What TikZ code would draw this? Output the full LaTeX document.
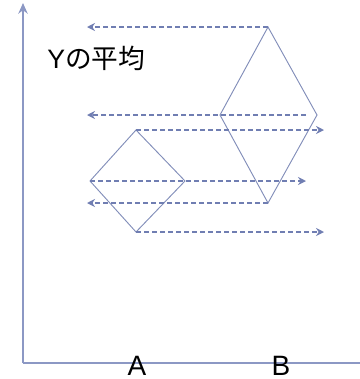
\documentclass[tikz,border=0pt]{standalone}
\usepackage{fontspec}
\setmainfont{Liberation Sans}
\newfontfamily\jpfont{Noto Sans CJK JP}
\usetikzlibrary{arrows.meta}
\definecolor{axiscol}{RGB}{140,152,196}
\definecolor{diacol}{RGB}{130,142,185}
\definecolor{dashcol}{RGB}{112,126,178}
\tikzset{
  axisline/.style={draw=axiscol, line width=1.8pt},
  diamondline/.style={draw=diacol, line width=0.7pt},
  dasharrow/.style={draw=dashcol, line width=1.3pt, dash pattern=on 4pt off 2pt, -{Stealth[length=6pt,width=6pt]}},
  lbl/.style={inner sep=0pt, font=\fontsize{21}{25}\selectfont, text=black}
}
\begin{document}
\begin{tikzpicture}[x=0.75pt, y=-0.75pt]
\useasboundingbox (0,0) rectangle (360,379);
% axes
\coordinate (O) at (23,363);
\coordinate (ytop) at (23,3);
\coordinate (xend) at (360,363);
\draw[axisline, -{Stealth[length=8pt,width=7pt]}] (O) -- (ytop);
\draw[axisline] (O) -- (xend);
% diamond A
\coordinate (At) at (136,130);
\coordinate (Al) at (90,181);
\coordinate (Ar) at (185,181);
\coordinate (Ab) at (136,232);
\draw[diamondline] (At) -- (Ar) -- (Ab) -- (Al) -- cycle;
% diamond B
\coordinate (Bt) at (268,27);
\coordinate (Bl) at (220,115);
\coordinate (Br) at (317,115);
\coordinate (Bb) at (268,203);
\draw[diamondline] (Bt) -- (Br) -- (Bb) -- (Bl) -- cycle;
% arrow end points
\coordinate (e1) at (87,27);
\coordinate (s2) at (306,115);
\coordinate (e2) at (87,115);
\coordinate (e3) at (324,130);
\coordinate (e4) at (306,181);
\coordinate (e5) at (87,203);
\coordinate (e6) at (324,232);
\draw[dasharrow] (Bt) -- (e1);
\draw[dasharrow] (s2) -- (e2);
\draw[dasharrow] (At) -- (e3);
\draw[dasharrow] (Al) -- (e4);
\draw[dasharrow] (Bb) -- (e5);
\draw[dasharrow] (Ab) -- (e6);
% labels
\node[lbl, anchor=base west, font=\fontsize{20}{24}\selectfont] (ylabel) at (47,68) {Y{\jpfont の平均}};
\node[lbl, anchor=base] (labA) at (137,375) {A};
\node[lbl, anchor=base] (labB) at (281,375) {B};
\end{tikzpicture}
\end{document}
